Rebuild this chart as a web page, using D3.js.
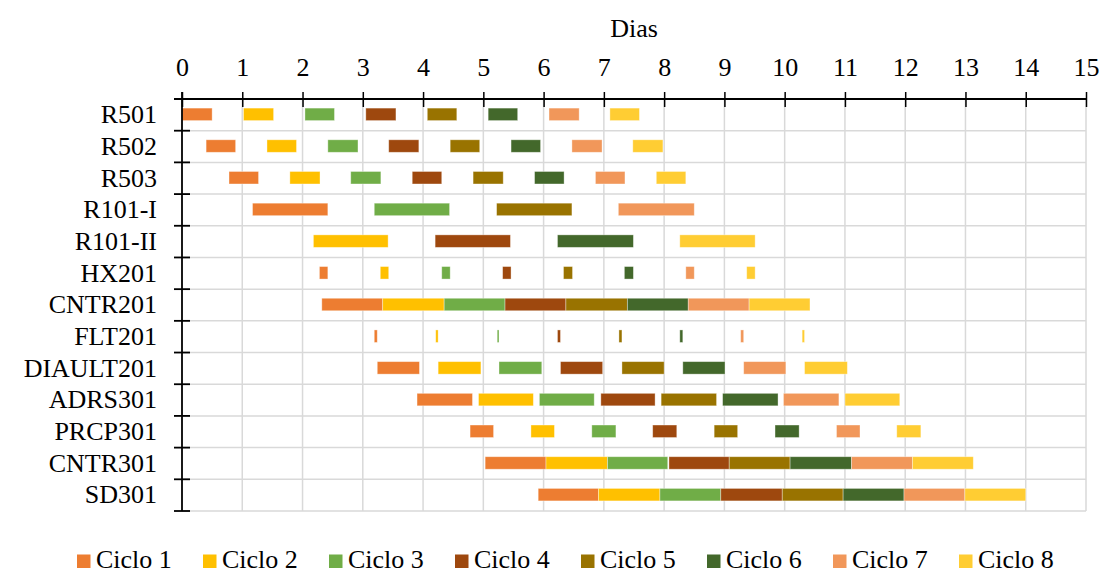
<!DOCTYPE html>
<html>
<head>
<meta charset="utf-8">
<script src="https://cdn.jsdelivr.net/npm/d3@7/dist/d3.min.js"></script>
<style>
  html, body { margin: 0; padding: 0; background: #fff; }
  svg { display: block; }
  text { font-family: "Liberation Serif", "Times New Roman", serif; fill: #000; }
</style>
</head>
<body>
<svg id="chart" width="1103" height="574"></svg>
<script>
// ---- DATA ----
const tasks = ["R501","R502","R503","R101-I","R101-II","HX201","CNTR201","FLT201","DIAULT201","ADRS301","PRCP301","CNTR301","SD301"];
const cycleNames = ["Ciclo 1","Ciclo 2","Ciclo 3","Ciclo 4","Ciclo 5","Ciclo 6","Ciclo 7","Ciclo 8"];
const dayTicks = [0,1,2,3,4,5,6,7,8,9,10,11,12,13,14,15];
const axisTitle = "Dias";
// [start, end] in days for each task (null = no bar)
const ciclo1 = [[0.00,0.50],[0.40,0.89],[0.78,1.27],[1.17,2.42],null,[2.28,2.42],[2.32,3.33],[3.19,3.24],[3.24,3.94],[3.90,4.82],[4.78,5.17],[5.03,6.04],[5.91,6.91]];
const ciclo2 = [[1.02,1.52],[1.41,1.90],[1.79,2.29],null,[2.18,3.42],[3.29,3.43],[3.33,4.35],[4.21,4.25],[4.25,4.96],[4.92,5.83],[5.79,6.18],[6.04,7.06],[6.91,7.93]];
const ciclo3 = [[2.04,2.53],[2.42,2.92],[2.80,3.30],[3.19,4.44],null,[4.31,4.45],[4.35,5.36],[5.23,5.26],[5.26,5.97],[5.93,6.84],[6.80,7.20],[7.06,8.06],[7.93,8.94]];
const ciclo4 = [[3.05,3.55],[3.43,3.93],[3.82,4.31],null,[4.20,5.45],[5.32,5.46],[5.36,6.37],[6.23,6.28],[6.28,6.98],[6.95,7.85],[7.81,8.21],[8.08,9.08],[8.94,9.96]];
const ciclo5 = [[4.07,4.56],[4.45,4.94],[4.83,5.33],[5.22,6.47],null,[6.33,6.48],[6.37,7.39],[7.25,7.30],[7.30,8.00],[7.95,8.87],[8.83,9.22],[9.08,10.09],[9.96,10.97]];
const ciclo6 = [[5.08,5.57],[5.46,5.95],[5.85,6.34],null,[6.23,7.49],[7.34,7.49],[7.39,8.40],[8.26,8.31],[8.31,9.01],[8.97,9.89],[9.84,10.24],[10.09,11.11],[10.97,11.98]];
const ciclo7 = [[6.09,6.59],[6.47,6.97],[6.86,7.35],[7.24,8.50],null,[8.36,8.50],[8.40,9.41],[9.27,9.32],[9.32,10.02],[9.98,10.90],[10.86,11.25],[11.11,12.12],[11.98,12.99]];
const ciclo8 = [[7.10,7.59],[7.48,7.98],[7.87,8.36],null,[8.26,9.51],[9.37,9.51],[9.41,10.42],[10.29,10.33],[10.33,11.04],[11.00,11.91],[11.86,12.26],[12.12,13.13],[12.99,14.00]];
const colors = ["#ED7D31","#FFC000","#70AD47","#9E480E","#997300","#43682B","#F1975A","#FFCD33"];

const cycles = [ciclo1,ciclo2,ciclo3,ciclo4,ciclo5,ciclo6,ciclo7,ciclo8];

// ---- LAYOUT ----
const svg = d3.select("#chart");
const mLeft = 182, mRight = 1086, mTop = 99, mBottom = 511;
const fontSize = 26;

const x = d3.scaleLinear().domain([0, 15]).range([mLeft, mRight]);
const y = d3.scaleBand().domain(tasks).range([mTop, mBottom]).padding(0);
const barH = 12.5;

// Gridlines
const grid = svg.append("g");
grid.selectAll("line.v").data(dayTicks.slice(1)).join("line")
  .attr("x1", d => x(d)).attr("x2", d => x(d))
  .attr("y1", mTop).attr("y2", mBottom)
  .attr("stroke", "#d9d9d9").attr("stroke-width", 1.5);
const bounds = tasks.slice(1).map(t => y(t)).concat([mBottom]);
grid.selectAll("line.h").data(bounds).join("line")
  .attr("x1", mLeft).attr("x2", mRight)
  .attr("y1", d => d).attr("y2", d => d)
  .attr("stroke", "#d9d9d9").attr("stroke-width", 1.5);

// Bars
const rows = [];
cycles.forEach((c, ci) => c.forEach((v, ti) => { if (v) rows.push({task: tasks[ti], s: v[0], e: v[1], ci}); }));
svg.append("g").selectAll("rect").data(rows).join("rect")
  .attr("x", d => x(d.s))
  .attr("width", d => x(d.e) - x(d.s))
  .attr("y", d => y(d.task) + y.bandwidth() / 2 - barH / 2 - 0.5)
  .attr("height", barH)
  .attr("fill", d => colors[d.ci])
  .attr("stroke", "rgba(255,255,255,0.45)")
  .attr("stroke-width", 0.8);

// Top axis
const xAxis = d3.axisTop(x).tickValues(dayTicks).tickFormat(d3.format("d")).tickSizeInner(7).tickSizeOuter(0).tickPadding(16);
const gx = svg.append("g").attr("transform", `translate(0,${mTop})`).call(xAxis);
gx.select(".domain").remove();
gx.selectAll(".tick line").attr("y1", 8).attr("y2", -7).attr("stroke", "#000").attr("stroke-width", 1.5);
gx.selectAll(".tick text").attr("font-size", fontSize).attr("font-family", "Liberation Serif").attr("fill", "#000");
svg.append("line").attr("x1", mLeft - 8).attr("x2", mRight).attr("y1", mTop).attr("y2", mTop)
  .attr("stroke", "#000").attr("stroke-width", 1.8);

// Axis title
svg.append("text").attr("x", x(7.5)).attr("y", 37).attr("text-anchor", "middle")
  .attr("font-size", fontSize).text(axisTitle);

// Left axis
const yAxis = d3.axisLeft(y).tickSize(0).tickPadding(25);
const gy = svg.append("g").attr("transform", `translate(${mLeft},0)`).call(yAxis);
gy.select(".domain").remove();
gy.selectAll(".tick text").attr("font-size", fontSize).attr("font-family", "Liberation Serif").attr("fill", "#000").attr("dy", "0.32em");
svg.append("line").attr("x1", mLeft).attr("x2", mLeft).attr("y1", mTop - 7).attr("y2", mBottom)
  .attr("stroke", "#000").attr("stroke-width", 1.8);
svg.append("g").selectAll("line").data(bounds).join("line")
  .attr("x1", mLeft - 8).attr("x2", mLeft + 8)
  .attr("y1", d => d).attr("y2", d => d)
  .attr("stroke", "#000").attr("stroke-width", 1.8);

// Legend
const lg = svg.append("g");
const legItems = lg.selectAll("g").data(cycleNames).join("g")
  .attr("transform", (d, i) => `translate(${77 + i * 126},0)`);
legItems.append("rect").attr("x", 0).attr("y", 554.5).attr("width", 13.5).attr("height", 13.5)
  .attr("fill", (d, i) => colors[i]);
legItems.append("text").attr("x", 19).attr("y", 568).attr("font-size", fontSize)
  .attr("font-family", "Liberation Serif").text(d => d);
</script>
</body>
</html>
